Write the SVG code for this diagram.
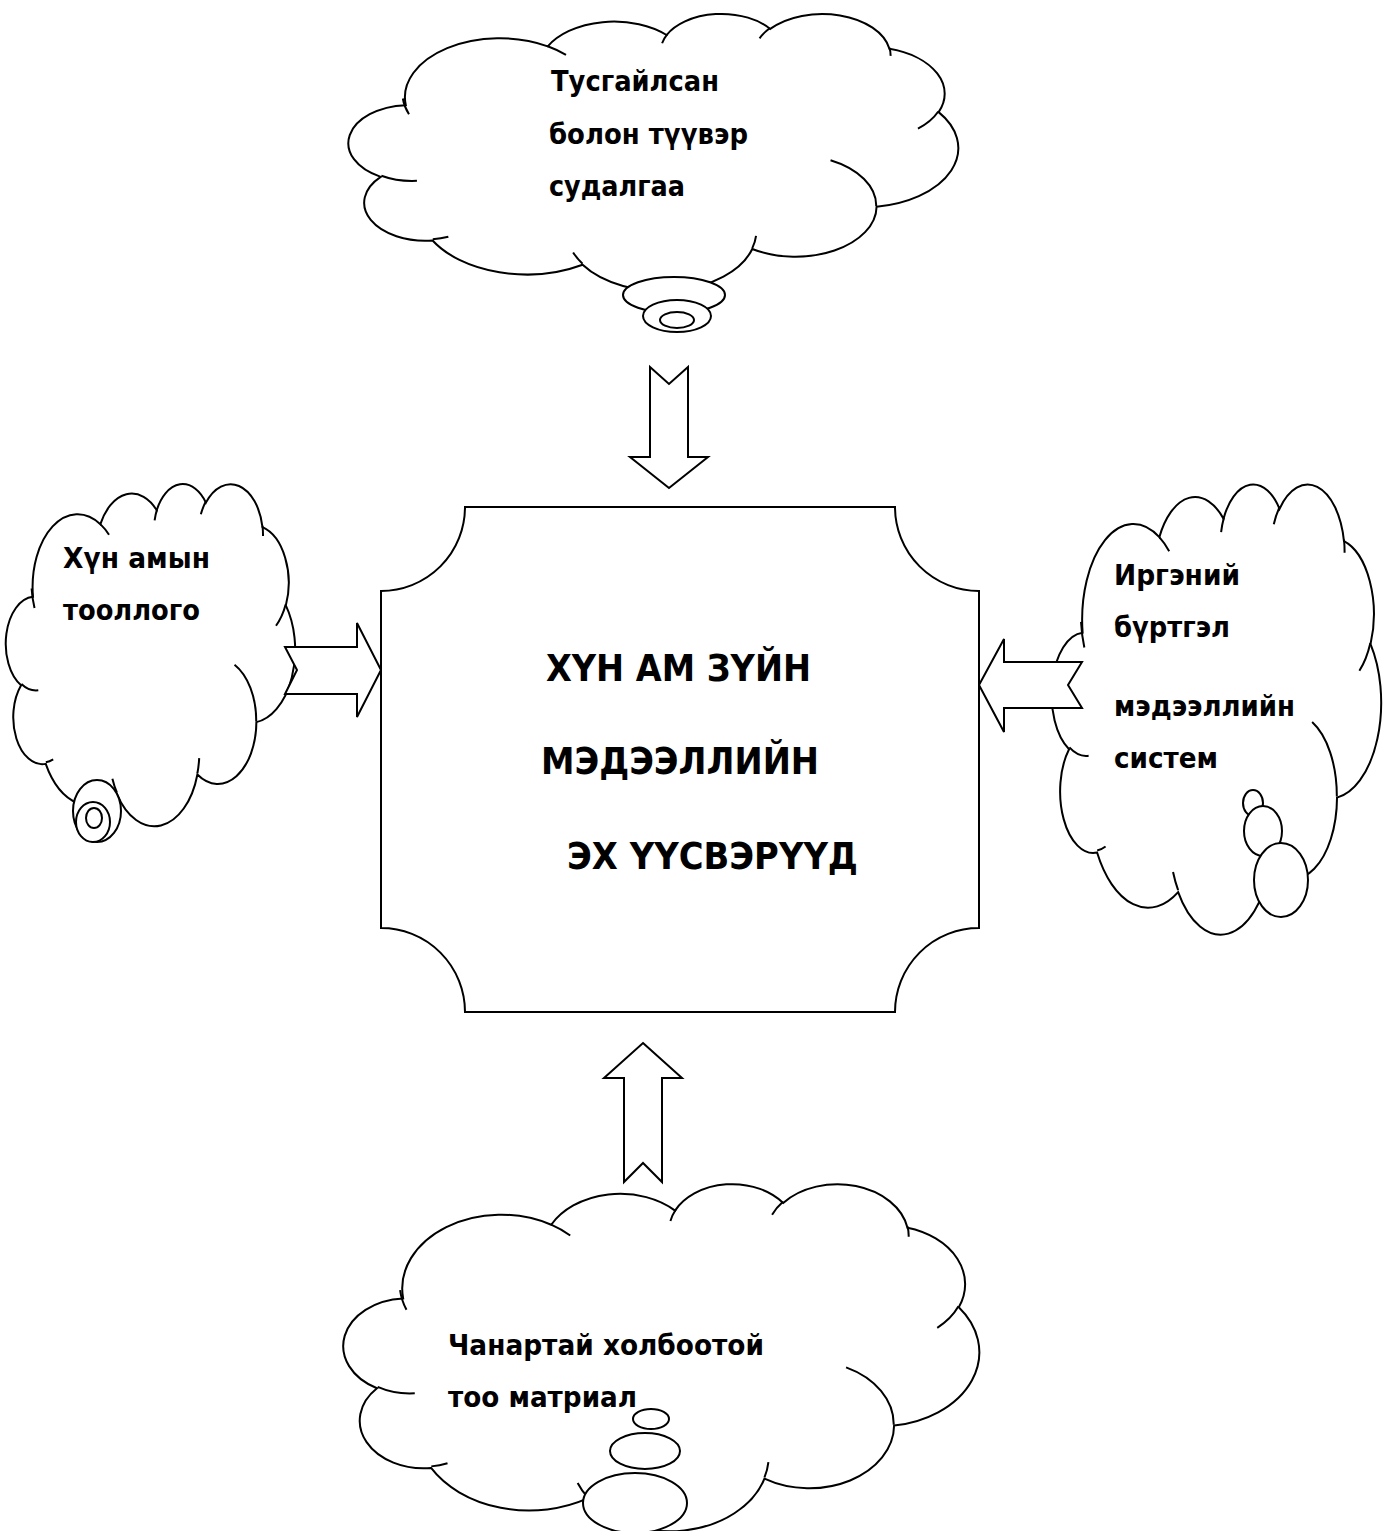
<svg xmlns="http://www.w3.org/2000/svg" width="1392" height="1531" viewBox="0 0 1392 1531">
<style>
.cloud{fill:#fff;stroke:#000;stroke-width:2}
.inner{fill:none;stroke:#000;stroke-width:2}
.bub{fill:#fff;stroke:#000;stroke-width:2}
.arrow{fill:#fff;stroke:#000;stroke-width:2;stroke-linejoin:miter}
.box{fill:#fff;stroke:#000;stroke-width:2}
.t{font-family:"DejaVu Sans","Liberation Sans",sans-serif;font-weight:bold;font-size:29px;fill:#000}
.c{font-family:"DejaVu Sans","Liberation Sans",sans-serif;font-weight:bold;font-size:38px;fill:#000}
</style>
<defs>
<path id="cloudBody" vector-effect="non-scaling-stroke" d="M3900 14370A6753 9190 0 0 1 14005 5202A5333 7267 0 0 1 22458 3434A4365 5945 0 0 1 29835 2483A4857 6595 0 0 1 38320 5578A5333 7273 0 0 1 41821 15462A6775 9220 0 0 1 37405 30203A5785 7867 0 0 1 28557 36814A6752 9215 0 0 1 16483 39268A7720 10543 0 0 1 5807 35476A4360 5918 0 0 1 2115 25553A4345 5945 0 0 1 3900 14370Z"/>
<path id="cloudInner" vector-effect="non-scaling-stroke" d="M4693 26177A4345 5945 0 0 1 2160 25380M6928 34899A4360 5918 0 0 1 5820 35281M16478 39090A6752 9215 0 0 1 15809 37346M28827 34751A6752 9215 0 0 1 28560 36660M34129 22954A5785 7867 0 0 1 37380 30090M41798 15354A5333 7273 0 0 1 40350 18030M38324 5426A4857 6595 0 0 1 38401 6690M29078 3952A4857 6595 0 0 1 29820 2341M22141 4720A4365 5945 0 0 1 22501 3331M14000 5192A6753 9190 0 0 1 15302 6543M4127 15789A6753 9190 0 0 1 3691 13331"/>
</defs>

<g id="cloud-top">
<g transform="translate(351,13) scale(0.014051,0.006412)">
<use href="#cloudBody" class="cloud"/>
<use href="#cloudInner" class="inner"/>
</g>
<ellipse class="bub" cx="674" cy="295" rx="51" ry="18"/>
<ellipse class="bub" cx="677" cy="316" rx="34" ry="16"/>
<ellipse class="bub" cx="677" cy="320" rx="17" ry="8"/>
<text class="t" x="551" y="91" textLength="168" lengthAdjust="spacingAndGlyphs">Тусгайлсан</text>
<text class="t" x="549" y="144" textLength="199" lengthAdjust="spacingAndGlyphs">болон түүвэр</text>
<text class="t" x="549" y="196" textLength="136" lengthAdjust="spacingAndGlyphs">судалгаа</text>
</g>

<g id="cloud-left">
<g transform="translate(7,483) scale(0.006667,0.007917)">
<use href="#cloudBody" class="cloud"/>
<use href="#cloudInner" class="inner"/>
</g>
<ellipse class="bub" cx="97" cy="811" rx="24" ry="31"/>
<ellipse class="bub" cx="93" cy="822" rx="17" ry="20"/>
<ellipse class="bub" cx="94" cy="818" rx="8" ry="10"/>
<text class="t" x="63" y="568" textLength="147" lengthAdjust="spacingAndGlyphs">Хүн амын</text>
<text class="t" x="63" y="620" textLength="137" lengthAdjust="spacingAndGlyphs">тооллого</text>
</g>

<g id="cloud-right">
<g transform="translate(1053,483) scale(0.007593,0.010417)">
<use href="#cloudBody" class="cloud"/>
<use href="#cloudInner" class="inner"/>
</g>
<ellipse class="bub" cx="1253" cy="803" rx="10" ry="13"/>
<ellipse class="bub" cx="1263" cy="831" rx="19" ry="25"/>
<ellipse class="bub" cx="1281" cy="880" rx="27" ry="37"/>
<text class="t" x="1114" y="585" textLength="126" lengthAdjust="spacingAndGlyphs">Иргэний</text>
<text class="t" x="1114" y="637" textLength="116" lengthAdjust="spacingAndGlyphs">бүртгэл</text>
<text class="t" x="1114" y="716" textLength="181" lengthAdjust="spacingAndGlyphs">мэдээллийн</text>
<text class="t" x="1114" y="768" textLength="104" lengthAdjust="spacingAndGlyphs">систем</text>
</g>

<g id="cloud-bottom">
<g transform="translate(346,1183) scale(0.014653,0.008032)">
<use href="#cloudBody" class="cloud"/>
<use href="#cloudInner" class="inner"/>
</g>
<ellipse class="bub" cx="651" cy="1419" rx="18" ry="10"/>
<ellipse class="bub" cx="645" cy="1451" rx="35" ry="18"/>
<ellipse class="bub" cx="635" cy="1503" rx="52" ry="30"/>
<text class="t" x="448" y="1355" textLength="316" lengthAdjust="spacingAndGlyphs">Чанартай холбоотой</text>
<text class="t" x="448" y="1407" textLength="189" lengthAdjust="spacingAndGlyphs">тоо матриал</text>
</g>

<g id="connectors">
<polygon class="arrow" points="650,367 669,384 688,367 688,457 708,457 669,488 630,457 650,457"/>
<polygon class="arrow" points="285,647 357,647 357,623 381,670 357,717 357,694 285,694 297,670"/>
<polygon class="arrow" points="1082,662 1004,662 1004,639 979,685 1004,732 1004,708 1082,708 1068,685"/>
<polygon class="arrow" points="643,1043 682,1078 662,1078 662,1182 643,1163 624,1182 624,1078 604,1078"/>
</g>

<g id="center-box">
<path class="box" d="M465,507H895A84,84 0 0 0 979,591V928A84,84 0 0 0 895,1012H465A84,84 0 0 0 381,928V591A84,84 0 0 0 465,507Z"/>
<text class="c" x="546" y="681" textLength="265" lengthAdjust="spacingAndGlyphs">ХҮН АМ ЗҮЙН</text>
<text class="c" x="541" y="774" textLength="278" lengthAdjust="spacingAndGlyphs">МЭДЭЭЛЛИЙН</text>
<text class="c" x="567" y="869" textLength="291" lengthAdjust="spacingAndGlyphs">ЭХ ҮҮСВЭРҮҮД</text>
</g>
</svg>
